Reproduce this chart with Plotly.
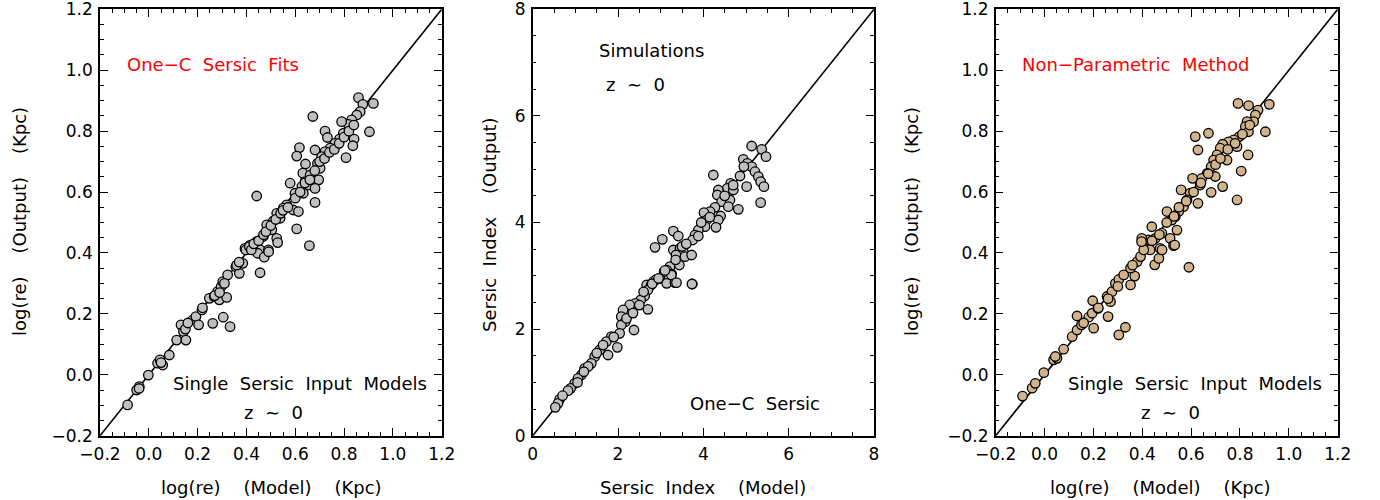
import plotly.graph_objects as go

# ---------------- data ----------------
# Panel 1: One-C Sersic fits, log(re)
p1_model = [0.859, 0.877, 0.920, 0.866, 0.852, 0.831, 0.818, 0.790, 0.672, 0.904, 0.722, 0.732, 0.797, 0.781,
            0.763, 0.841, 0.836, 0.808, 0.743, 0.722, 0.708, 0.617, 0.606, 0.681, 0.642, 0.691, 0.702, 0.631,
            0.661, 0.696, 0.640, 0.579, 0.627, 0.654, 0.681, 0.599, 0.633, 0.442, 0.681, 0.565, 0.592, 0.613,
            0.551, 0.524, 0.538, 0.510, 0.483, 0.606, 0.504, 0.524, 0.469, 0.442, 0.415, 0.394, 0.658, 0.456,
            0.490,
            -0.087, -0.050, -0.039, -0.002, 0.036, 0.046, 0.057, 0.084, 0.114, 0.132, 0.142, 0.152, 0.180,
            0.193, 0.218, 0.204, 0.262, 0.305, 0.333, 0.248, 0.268, 0.289, 0.319, 0.282, 0.296, 0.303, 0.323,
            0.357, 0.371, 0.385, 0.398, 0.412, 0.446, 0.473, 0.456, 0.491, 0.528,
            0.36, 0.37, 0.42, 0.43, 0.45, 0.47, 0.48, 0.50, 0.52, 0.54, 0.55, 0.57, 0.60, 0.62, 0.64, 0.66,
            0.68, 0.70, 0.72, 0.74, 0.76, 0.78, 0.80, 0.82, 0.84, 0.27, 0.29, 0.31, 0.22, 0.15, 0.16, 0.05, -0.04]
p1_output = [0.910, 0.888, 0.891, 0.864, 0.853, 0.837, 0.822, 0.831, 0.848, 0.798, 0.800, 0.779, 0.793, 0.774,
             0.760, 0.774, 0.752, 0.713, 0.744, 0.733, 0.716, 0.746, 0.718, 0.738, 0.692, 0.694, 0.678, 0.662,
             0.656, 0.640, 0.634, 0.629, 0.618, 0.623, 0.612, 0.596, 0.596, 0.587, 0.566, 0.558, 0.541, 0.536,
             0.547, 0.530, 0.514, 0.505, 0.492, 0.479, 0.476, 0.448, 0.454, 0.437, 0.426, 0.415, 0.424, 0.410,
             0.410,
             -0.099, -0.050, -0.039, -0.001, 0.038, 0.049, 0.032, 0.065, 0.114, 0.164, 0.142, 0.114, 0.180,
             0.191, 0.213, 0.164, 0.169, 0.189, 0.158, 0.251, 0.257, 0.246, 0.254, 0.273, 0.289, 0.306, 0.328,
             0.355, 0.333, 0.366, 0.410, 0.421, 0.399, 0.386, 0.335, 0.404, 0.434,
             0.36, 0.37, 0.41, 0.43, 0.44, 0.46, 0.47, 0.49, 0.51, 0.53, 0.54, 0.55, 0.58, 0.60, 0.63, 0.64,
             0.67, 0.70, 0.71, 0.73, 0.74, 0.76, 0.78, 0.80, 0.82, 0.26, 0.27, 0.30, 0.22, 0.15, 0.17, 0.04, -0.045]

# Panel 2: Sersic index
p2_model = [5.132, 5.367, 5.468, 4.937, 5.031, 5.132, 5.210, 5.289, 5.343, 5.420, 5.015, 4.859, 4.234, 4.640,
            4.562, 4.703, 4.351, 4.328, 4.429, 4.624, 5.343, 4.585, 4.820, 4.273, 4.156, 4.015, 4.405, 4.351,
            4.078, 4.296, 4.038, 3.882, 3.804, 3.749, 3.882, 3.296, 3.413, 3.038, 2.867, 3.296, 3.453, 3.530,
            3.359, 3.570, 3.726, 3.437, 3.218, 3.140, 3.257, 2.984, 2.828, 2.671, 3.140, 3.335, 3.742,
            3.080, 3.250, 3.370, 3.733, 2.898, 2.780, 2.700, 2.624, 2.530, 2.700, 2.405, 2.273, 2.117, 2.077,
            2.171, 2.374, 2.077, 2.038, 1.843, 1.726, 1.984, 1.765, 1.570, 1.453, 1.374, 1.218, 1.140, 1.062,
            0.984, 0.890, 0.828, 0.632, 0.593, 0.530,
            1.30, 1.50, 1.65, 1.90, 2.20, 2.35, 2.50, 2.60, 2.80, 2.95, 3.10, 3.35, 3.50, 3.60, 3.95, 4.15,
            4.50, 4.70, 4.95, 1.05, 0.70, 1.20]
p2_output = [5.435, 5.372, 5.235, 5.185, 5.110, 5.047, 4.953, 4.860, 4.766, 4.672, 4.672, 4.872, 4.891, 4.734,
             4.641, 4.610, 4.610, 4.516, 4.390, 4.422, 4.372, 4.297, 4.247, 4.284, 4.203, 4.184, 4.122, 4.047,
             4.047, 3.909, 3.921, 3.859, 3.765, 3.671, 3.746, 3.840, 3.746, 3.684, 3.534, 3.484, 3.515, 3.452,
             3.390, 3.359, 3.390, 3.202, 3.171, 3.108, 3.033, 2.952, 2.889, 2.827, 2.858, 2.871, 2.846,
             3.078, 3.015, 2.871, 2.846, 2.934, 2.827, 2.734, 2.621, 2.546, 2.371, 2.484, 2.453, 2.359, 2.233,
             2.140, 1.983, 2.077, 1.921, 1.858, 1.764, 1.658, 1.514, 1.608, 1.483, 1.358, 1.264, 1.139, 1.077,
             0.983, 0.889, 0.845, 0.682, 0.607, 0.532,
             1.30, 1.55, 1.70, 1.85, 2.20, 2.30, 2.45, 2.70, 2.85, 2.95, 3.10, 3.30, 3.55, 3.60, 4.00, 4.10,
             4.50, 4.70, 5.05, 1.00, 0.75, 1.20]

# Panel 3: Non-parametric method, log(re)
p3_model = [0.792, 0.835, 0.920, 0.874, 0.863, 0.856, 0.829, 0.822, 0.835, 0.904, 0.617, 0.671, 0.628, 0.797,
            0.774, 0.753, 0.729, 0.788, 0.719, 0.833, 0.706, 0.692, 0.747, 0.682, 0.805, 0.665, 0.699, 0.644,
            0.606, 0.637, 0.729, 0.682, 0.559, 0.596, 0.788, 0.628, 0.583, 0.569, 0.549, 0.501, 0.535, 0.521,
            0.542, 0.439, 0.480, 0.453, 0.426, 0.398, 0.514, 0.528, 0.473, 0.432,
            -0.090, -0.051, -0.038, -0.003, 0.037, 0.051, 0.044, 0.078, 0.113, 0.133, 0.151, 0.133, 0.181,
            0.195, 0.219, 0.201, 0.260, 0.197, 0.304, 0.331, 0.256, 0.270, 0.276, 0.290, 0.304, 0.324, 0.352,
            0.369, 0.352, 0.379, 0.393, 0.406, 0.397, 0.451, 0.468, 0.481, 0.533, 0.591,
            0.36, 0.44, 0.47, 0.50, 0.53, 0.55, 0.58, 0.61, 0.64, 0.67, 0.70, 0.72, 0.75, 0.78, 0.81, 0.84,
            0.30, 0.26, 0.22, 0.16]
p3_output = [0.891, 0.884, 0.888, 0.869, 0.853, 0.831, 0.831, 0.815, 0.798, 0.798, 0.782, 0.793, 0.738, 0.782,
             0.771, 0.765, 0.757, 0.749, 0.744, 0.722, 0.722, 0.705, 0.705, 0.683, 0.669, 0.661, 0.651, 0.645,
             0.645, 0.623, 0.618, 0.599, 0.607, 0.596, 0.574, 0.563, 0.574, 0.552, 0.536, 0.536, 0.519, 0.508,
             0.475, 0.486, 0.465, 0.448, 0.443, 0.448, 0.448, 0.424, 0.415, 0.410,
             -0.070, -0.044, -0.028, 0.007, 0.049, 0.054, 0.060, 0.084, 0.125, 0.147, 0.164, 0.193, 0.189,
             0.202, 0.218, 0.153, 0.191, 0.243, 0.131, 0.156, 0.257, 0.240, 0.273, 0.300, 0.313, 0.328, 0.295,
             0.324, 0.350, 0.371, 0.388, 0.410, 0.437, 0.361, 0.382, 0.410, 0.426, 0.353,
             0.36, 0.44, 0.46, 0.50, 0.52, 0.55, 0.57, 0.60, 0.63, 0.66, 0.69, 0.71, 0.74, 0.76, 0.79, 0.82,
             0.29, 0.25, 0.22, 0.17]

re_range = [-0.2, 1.2]
n_range = [0, 8]

FONT = "DejaVu Sans"
NB = "\u00a0"
W, H = 1380, 500

fig = go.Figure()

panels = [
    (p1_model, p1_output, re_range, "#c0c0c0", "x", "y"),
    (p2_model, p2_output, n_range, "#c0c0c0", "x2", "y2"),
    (p3_model, p3_output, re_range, "#d2b48c", "x3", "y3"),
]
for xs, ys, rng, col, xa, ya in panels:
    fig.add_trace(go.Scatter(x=rng, y=rng, mode="lines", line=dict(color="black", width=1.6),
                             xaxis=xa, yaxis=ya, showlegend=False, hoverinfo="skip"))
    fig.add_trace(go.Scatter(x=xs, y=ys, mode="markers", xaxis=xa, yaxis=ya, showlegend=False,
                             marker=dict(size=9.5, color=col, line=dict(color="black", width=1.3))))

ydom = [1 - 435.7 / H, 1 - 9.3 / H]
xdoms = [[100 / W, 441.7 / W], [532.7 / W, 874 / W], [995.7 / W, 1337.7 / W]]


def ax(rng, dom, dtick, mdtick, fmt, anchor):
    return dict(domain=dom, range=rng, dtick=dtick, tick0=0, tickformat=fmt, anchor=anchor,
                showgrid=False, zeroline=False, showline=True, linecolor="black", linewidth=1.5,
                mirror="ticks", ticks="inside", ticklen=8, tickwidth=1.2, tickcolor="black",
                ticklabeloverflow="allow", ticklabelstandoff=2,
                tickfont=dict(family=FONT, size=17, color="black"), automargin=False,
                minor=dict(dtick=mdtick, tick0=0, ticks="inside", ticklen=4, tickwidth=1.2,
                           tickcolor="black", showgrid=False))


fig.update_layout(
    width=W, height=H, margin=dict(l=0, r=0, t=0, b=0),
    paper_bgcolor="white", plot_bgcolor="white",
    xaxis=ax(re_range, xdoms[0], 0.2, 0.05, ".1f", "y"),
    yaxis=ax(re_range, ydom, 0.2, 0.05, ".1f", "x"),
    xaxis2=ax(n_range, xdoms[1], 2, 0.5, "d", "y2"),
    yaxis2=ax(n_range, ydom, 2, 0.5, "d", "x2"),
    xaxis3=ax(re_range, xdoms[2], 0.2, 0.05, ".1f", "y3"),
    yaxis3=ax(re_range, ydom, 0.2, 0.05, ".1f", "x3"),
)

sp = NB * 4
sp2 = NB * 2


def txt(x, y, s, xref, yref, color="black", xanchor="center", size=18, angle=0):
    fig.add_annotation(x=x, y=y, xref=xref, yref=yref, text=s, showarrow=False, xanchor=xanchor,
                       yanchor="middle", textangle=angle,
                       font=dict(family=FONT, size=size, color=color))


# axis titles
txt(271 / W, 1 - 487 / H, "log(re)" + sp + "(Model)" + sp + "(Kpc)", "paper", "paper")
txt(703 / W, 1 - 487 / H, "Sersic" + sp2 + "Index" + sp + "(Model)", "paper", "paper")
txt(1160 / W, 1 - 487 / H, "log(re)" + sp + "(Model)" + sp + "(Kpc)", "paper", "paper")
txt(20 / W, 1 - 222 / H, "log(re)" + sp + "(Output)" + sp + "(Kpc)", "paper", "paper", angle=-90)
txt(490 / W, 1 - 225 / H, "Sersic" + sp2 + "Index" + sp + "(Output)", "paper", "paper", angle=-90)
txt(912 / W, 1 - 222 / H, "log(re)" + sp + "(Output)" + sp + "(Kpc)", "paper", "paper", angle=-90)

# in-panel labels
txt(-0.0975, 1.02, "One\u2212C" + sp2 + "Sersic" + sp2 + "Fits", "x", "y", color="red", xanchor="left")
txt(0.618, -0.030, "Single" + sp2 + "Sersic" + sp2 + "Input" + sp2 + "Models", "x", "y")
txt(0.509, -0.125, "z" + sp2 + "\u223c" + sp2 + "0", "x", "y")

txt(2.796, 7.236, "Simulations", "x2", "y2")
txt(2.40, 6.596, "z" + sp2 + "\u223c" + sp2 + "0", "x2", "y2")
txt(5.21, 0.595, "One\u2212C" + sp2 + "Sersic", "x2", "y2")

txt(-0.100, 1.02, "Non\u2212Parametric" + sp2 + "Method", "x3", "y3", color="red", xanchor="left")
txt(0.617, -0.030, "Single" + sp2 + "Sersic" + sp2 + "Input" + sp2 + "Models", "x3", "y3")
txt(0.515, -0.125, "z" + sp2 + "\u223c" + sp2 + "0", "x3", "y3")

fig.write_html("out.html", config={"displayModeBar": False},
               post_script="document.body.style.margin='0';document.body.style.padding='0';"
                           "document.body.style.overflow='hidden';")
